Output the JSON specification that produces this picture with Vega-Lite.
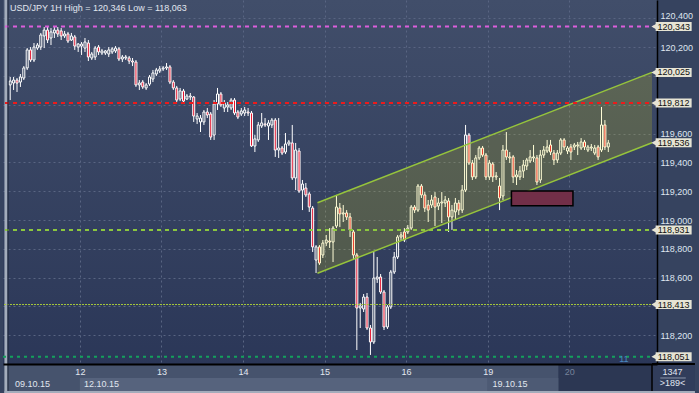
{
"$schema":"https://vega.github.io/schema/vega-lite/v6.json",
"width":654,"height":364,
"autosize":{"type":"none"},
"padding":{"left":3,"top":0,"right":42,"bottom":29},
"background":"#36435f",
"config":{"view":{"stroke":null,"fill":{"gradient":"linear","x1":0,"y1":0,"x2":0,"y2":1,"stops":[{"offset":0,"color":"#414e6a"},{"offset":1,"color":"#2b3758"}]}},"font":"Liberation Sans","axis":{"labelFont":"Liberation Sans","labelFontSize":9},"text":{"font":"Liberation Sans","fontSize":9}},
"resolve":{"axis":{"x":"independent","y":"independent"}},
"datasets":{
"candles":[
{"t":-21,"o":119.938,"h":119.993,"l":119.833,"c":119.965},
{"t":-20,"o":119.951,"h":119.993,"l":119.903,"c":119.972},
{"t":-19,"o":119.972,"h":119.986,"l":119.889,"c":119.951},
{"t":-18,"o":119.958,"h":120.014,"l":119.924,"c":119.993},
{"t":-17,"o":119.986,"h":120.069,"l":119.972,"c":120.056},
{"t":-16,"o":120.056,"h":120.194,"l":120.042,"c":120.181},
{"t":-15,"o":120.181,"h":120.201,"l":120.097,"c":120.111},
{"t":-14,"o":120.111,"h":120.229,"l":120.097,"c":120.201},
{"t":-13,"o":120.194,"h":120.229,"l":120.181,"c":120.215},
{"t":-12,"o":120.201,"h":120.299,"l":120.181,"c":120.285},
{"t":-11,"o":120.278,"h":120.340,"l":120.194,"c":120.319},
{"t":-10,"o":120.319,"h":120.346,"l":120.229,"c":120.250},
{"t":-9,"o":120.264,"h":120.333,"l":120.215,"c":120.306},
{"t":-8,"o":120.299,"h":120.340,"l":120.264,"c":120.319},
{"t":-7,"o":120.319,"h":120.340,"l":120.271,"c":120.292},
{"t":-6,"o":120.313,"h":120.333,"l":120.250,"c":120.278},
{"t":-5,"o":120.278,"h":120.313,"l":120.264,"c":120.292},
{"t":-4,"o":120.292,"h":120.306,"l":120.229,"c":120.243},
{"t":-3,"o":120.250,"h":120.299,"l":120.243,"c":120.278},
{"t":-2,"o":120.271,"h":120.285,"l":120.181,"c":120.208},
{"t":-1,"o":120.201,"h":120.229,"l":120.167,"c":120.222},
{"t":0,"o":120.208,"h":120.236,"l":120.146,"c":120.222},
{"t":1,"o":120.194,"h":120.264,"l":120.167,"c":120.236},
{"t":2,"o":120.229,"h":120.250,"l":120.104,"c":120.132},
{"t":3,"o":120.125,"h":120.167,"l":120.111,"c":120.153},
{"t":4,"o":120.132,"h":120.208,"l":120.111,"c":120.194},
{"t":5,"o":120.201,"h":120.215,"l":120.146,"c":120.167},
{"t":6,"o":120.160,"h":120.188,"l":120.146,"c":120.174},
{"t":7,"o":120.160,"h":120.181,"l":120.146,"c":120.174},
{"t":8,"o":120.153,"h":120.201,"l":120.132,"c":120.181},
{"t":9,"o":120.167,"h":120.201,"l":120.153,"c":120.188},
{"t":10,"o":120.174,"h":120.208,"l":120.160,"c":120.194},
{"t":11,"o":120.188,"h":120.201,"l":120.104,"c":120.118},
{"t":12,"o":120.118,"h":120.146,"l":120.097,"c":120.132},
{"t":13,"o":120.125,"h":120.146,"l":120.111,"c":120.132},
{"t":14,"o":120.125,"h":120.139,"l":120.083,"c":120.104},
{"t":15,"o":120.104,"h":120.125,"l":120.069,"c":120.097},
{"t":16,"o":120.097,"h":120.111,"l":119.924,"c":119.938},
{"t":17,"o":119.938,"h":119.972,"l":119.903,"c":119.951},
{"t":18,"o":119.958,"h":119.972,"l":119.910,"c":119.924},
{"t":19,"o":119.917,"h":119.951,"l":119.903,"c":119.938},
{"t":20,"o":119.944,"h":120.007,"l":119.931,"c":119.993},
{"t":21,"o":119.979,"h":120.042,"l":119.958,"c":120.021},
{"t":22,"o":120.014,"h":120.056,"l":120.000,"c":120.042},
{"t":23,"o":120.035,"h":120.069,"l":120.021,"c":120.049},
{"t":24,"o":120.049,"h":120.069,"l":120.035,"c":120.056},
{"t":25,"o":120.056,"h":120.090,"l":120.042,"c":120.063},
{"t":26,"o":120.063,"h":120.076,"l":119.944,"c":119.958},
{"t":27,"o":119.958,"h":119.972,"l":119.903,"c":119.917},
{"t":28,"o":119.917,"h":119.931,"l":119.819,"c":119.833},
{"t":29,"o":119.840,"h":119.917,"l":119.826,"c":119.896},
{"t":30,"o":119.896,"h":119.910,"l":119.813,"c":119.826},
{"t":31,"o":119.840,"h":119.875,"l":119.833,"c":119.861},
{"t":32,"o":119.854,"h":119.882,"l":119.833,"c":119.861},
{"t":33,"o":119.854,"h":119.861,"l":119.681,"c":119.722},
{"t":34,"o":119.701,"h":119.743,"l":119.667,"c":119.722},
{"t":35,"o":119.681,"h":119.729,"l":119.611,"c":119.708},
{"t":36,"o":119.681,"h":119.764,"l":119.660,"c":119.750},
{"t":37,"o":119.750,"h":119.778,"l":119.708,"c":119.729},
{"t":38,"o":119.736,"h":119.750,"l":119.556,"c":119.576},
{"t":39,"o":119.590,"h":119.833,"l":119.556,"c":119.806},
{"t":40,"o":119.806,"h":119.917,"l":119.764,"c":119.875},
{"t":41,"o":119.875,"h":119.889,"l":119.785,"c":119.799},
{"t":42,"o":119.778,"h":119.833,"l":119.750,"c":119.813},
{"t":43,"o":119.785,"h":119.819,"l":119.750,"c":119.799},
{"t":44,"o":119.778,"h":119.847,"l":119.764,"c":119.833},
{"t":45,"o":119.833,"h":119.847,"l":119.729,"c":119.743},
{"t":46,"o":119.750,"h":119.764,"l":119.701,"c":119.715},
{"t":47,"o":119.736,"h":119.778,"l":119.722,"c":119.757},
{"t":48,"o":119.743,"h":119.785,"l":119.722,"c":119.764},
{"t":49,"o":119.750,"h":119.778,"l":119.722,"c":119.743},
{"t":50,"o":119.743,"h":119.757,"l":119.507,"c":119.514},
{"t":51,"o":119.514,"h":119.590,"l":119.472,"c":119.563},
{"t":52,"o":119.556,"h":119.681,"l":119.542,"c":119.660},
{"t":53,"o":119.653,"h":119.743,"l":119.639,"c":119.674},
{"t":54,"o":119.667,"h":119.708,"l":119.646,"c":119.660},
{"t":55,"o":119.653,"h":119.694,"l":119.556,"c":119.674},
{"t":56,"o":119.660,"h":119.708,"l":119.639,"c":119.694},
{"t":57,"o":119.694,"h":119.708,"l":119.438,"c":119.486},
{"t":58,"o":119.486,"h":119.708,"l":119.431,"c":119.500},
{"t":59,"o":119.500,"h":119.514,"l":119.451,"c":119.465},
{"t":60,"o":119.472,"h":119.604,"l":119.458,"c":119.528},
{"t":61,"o":119.528,"h":119.556,"l":119.514,"c":119.542},
{"t":62,"o":119.535,"h":119.660,"l":119.278,"c":119.292},
{"t":63,"o":119.292,"h":119.535,"l":119.208,"c":119.486},
{"t":64,"o":119.479,"h":119.500,"l":119.188,"c":119.201},
{"t":65,"o":119.208,"h":119.278,"l":119.069,"c":119.250},
{"t":66,"o":119.222,"h":119.257,"l":119.160,"c":119.174},
{"t":67,"o":119.181,"h":119.194,"l":119.056,"c":119.090},
{"t":68,"o":119.083,"h":119.097,"l":118.778,"c":118.813},
{"t":69,"o":118.722,"h":118.826,"l":118.632,"c":118.813},
{"t":70,"o":118.813,"h":118.826,"l":118.688,"c":118.701},
{"t":71,"o":118.757,"h":118.861,"l":118.736,"c":118.840},
{"t":72,"o":118.840,"h":118.896,"l":118.819,"c":118.861},
{"t":73,"o":118.854,"h":118.944,"l":118.806,"c":118.847},
{"t":74,"o":118.847,"h":118.958,"l":118.708,"c":118.944},
{"t":75,"o":118.958,"h":119.174,"l":118.944,"c":119.090},
{"t":76,"o":119.083,"h":119.118,"l":118.951,"c":119.042},
{"t":77,"o":119.042,"h":119.104,"l":118.986,"c":119.049},
{"t":78,"o":119.049,"h":119.069,"l":119.000,"c":119.021},
{"t":79,"o":119.021,"h":119.049,"l":118.882,"c":118.931},
{"t":80,"o":118.917,"h":118.931,"l":118.722,"c":118.757},
{"t":81,"o":118.757,"h":118.771,"l":118.097,"c":118.389},
{"t":82,"o":118.389,"h":118.424,"l":118.250,"c":118.403},
{"t":83,"o":118.382,"h":118.486,"l":118.361,"c":118.465},
{"t":84,"o":118.465,"h":118.493,"l":118.236,"c":118.250},
{"t":85,"o":118.250,"h":118.271,"l":118.063,"c":118.153},
{"t":86,"o":118.153,"h":118.778,"l":118.139,"c":118.597},
{"t":87,"o":118.590,"h":118.743,"l":118.563,"c":118.604},
{"t":88,"o":118.604,"h":118.625,"l":118.486,"c":118.500},
{"t":89,"o":118.500,"h":118.514,"l":118.236,"c":118.257},
{"t":90,"o":118.257,"h":118.410,"l":118.243,"c":118.396},
{"t":91,"o":118.396,"h":118.653,"l":118.382,"c":118.639},
{"t":92,"o":118.639,"h":118.778,"l":118.625,"c":118.743},
{"t":93,"o":118.743,"h":118.896,"l":118.729,"c":118.882},
{"t":94,"o":118.882,"h":118.917,"l":118.861,"c":118.896},
{"t":95,"o":118.917,"h":118.944,"l":118.847,"c":118.861},
{"t":96,"o":118.917,"h":118.965,"l":118.903,"c":118.944},
{"t":97,"o":118.944,"h":119.104,"l":118.931,"c":119.090},
{"t":98,"o":119.090,"h":119.104,"l":119.049,"c":119.069},
{"t":99,"o":119.069,"h":119.250,"l":119.056,"c":119.236},
{"t":100,"o":119.236,"h":119.250,"l":119.153,"c":119.174},
{"t":101,"o":119.174,"h":119.194,"l":119.056,"c":119.083},
{"t":102,"o":119.104,"h":119.139,"l":118.986,"c":119.069},
{"t":103,"o":119.104,"h":119.174,"l":119.083,"c":119.139},
{"t":104,"o":119.160,"h":119.194,"l":118.958,"c":119.090},
{"t":105,"o":119.097,"h":119.153,"l":119.069,"c":119.118},
{"t":106,"o":119.118,"h":119.194,"l":118.979,"c":119.125},
{"t":107,"o":119.118,"h":119.167,"l":119.090,"c":119.139},
{"t":108,"o":119.132,"h":119.153,"l":118.917,"c":119.021},
{"t":109,"o":119.021,"h":119.104,"l":118.931,"c":119.069},
{"t":110,"o":119.056,"h":119.153,"l":119.000,"c":119.118},
{"t":111,"o":119.118,"h":119.139,"l":119.035,"c":119.069},
{"t":112,"o":119.069,"h":119.243,"l":119.049,"c":119.208},
{"t":113,"o":119.208,"h":119.660,"l":119.194,"c":119.590},
{"t":114,"o":119.590,"h":119.604,"l":119.382,"c":119.396},
{"t":115,"o":119.396,"h":119.417,"l":119.278,"c":119.299},
{"t":116,"o":119.299,"h":119.451,"l":119.285,"c":119.431},
{"t":117,"o":119.431,"h":119.514,"l":119.417,"c":119.500},
{"t":118,"o":119.500,"h":119.514,"l":119.438,"c":119.451},
{"t":119,"o":119.451,"h":119.465,"l":119.278,"c":119.299},
{"t":120,"o":119.299,"h":119.417,"l":119.278,"c":119.396},
{"t":121,"o":119.389,"h":119.403,"l":119.264,"c":119.299},
{"t":122,"o":119.299,"h":119.333,"l":119.278,"c":119.306},
{"t":123,"o":119.236,"h":119.292,"l":119.069,"c":119.153},
{"t":124,"o":119.167,"h":119.521,"l":119.139,"c":119.486},
{"t":125,"o":119.486,"h":119.611,"l":119.417,"c":119.438},
{"t":126,"o":119.438,"h":119.472,"l":119.396,"c":119.431},
{"t":127,"o":119.438,"h":119.451,"l":119.257,"c":119.299},
{"t":128,"o":119.299,"h":119.347,"l":119.243,"c":119.313},
{"t":129,"o":119.299,"h":119.375,"l":119.278,"c":119.340},
{"t":130,"o":119.340,"h":119.417,"l":119.292,"c":119.382},
{"t":131,"o":119.375,"h":119.431,"l":119.347,"c":119.417},
{"t":132,"o":119.410,"h":119.486,"l":119.396,"c":119.438},
{"t":133,"o":119.431,"h":119.521,"l":119.403,"c":119.438},
{"t":134,"o":119.431,"h":119.451,"l":119.243,"c":119.264},
{"t":135,"o":119.278,"h":119.486,"l":119.257,"c":119.451},
{"t":136,"o":119.451,"h":119.514,"l":119.431,"c":119.486},
{"t":137,"o":119.479,"h":119.556,"l":119.465,"c":119.507},
{"t":138,"o":119.521,"h":119.556,"l":119.451,"c":119.472},
{"t":139,"o":119.465,"h":119.486,"l":119.382,"c":119.417},
{"t":140,"o":119.417,"h":119.486,"l":119.396,"c":119.465},
{"t":141,"o":119.465,"h":119.569,"l":119.451,"c":119.556},
{"t":142,"o":119.556,"h":119.569,"l":119.486,"c":119.507},
{"t":143,"o":119.479,"h":119.514,"l":119.458,"c":119.500},
{"t":144,"o":119.507,"h":119.528,"l":119.417,"c":119.472},
{"t":145,"o":119.507,"h":119.535,"l":119.486,"c":119.521},
{"t":146,"o":119.514,"h":119.542,"l":119.451,"c":119.521},
{"t":147,"o":119.500,"h":119.569,"l":119.486,"c":119.542},
{"t":148,"o":119.542,"h":119.556,"l":119.486,"c":119.507},
{"t":149,"o":119.486,"h":119.521,"l":119.472,"c":119.507},
{"t":150,"o":119.500,"h":119.528,"l":119.479,"c":119.507},
{"t":151,"o":119.465,"h":119.521,"l":119.451,"c":119.500},
{"t":152,"o":119.507,"h":119.521,"l":119.417,"c":119.438},
{"t":153,"o":119.486,"h":119.785,"l":119.472,"c":119.660},
{"t":154,"o":119.660,"h":119.694,"l":119.486,"c":119.507},
{"t":155,"o":119.507,"h":119.556,"l":119.472,"c":119.535}
],
"chan":[{"t":69.42,"up":119.120,"lo":118.630},{"t":167.86,"up":120.025,"lo":119.536}],
"levels":[{"v":120.343,"k":"a"},{"v":119.812,"k":"b"},{"v":118.931,"k":"c"},{"v":118.051,"k":"e"}],
"thin":[{"v":118.413}],
"box":[{"t1":126.5,"t2":144.6,"top":119.201,"bot":119.099}],
"tags":[{"v":120.343,"lab":"120,343"},{"v":120.025,"lab":"120,025"},{"v":119.812,"lab":"119,812"},{"v":119.536,"lab":"119,536"},{"v":118.931,"lab":"118,931"},{"v":118.413,"lab":"118,413"},{"v":118.051,"lab":"118,051"}],
"one":[{}]
},
"layer":[
{"data":{"name":"one"},"mark":{"type":"rect","color":"#46536d"},
 "encoding":{"x":{"datum":-22.7,"type":"quantitative","axis":null,"scale":{"domain":[-21.65,167.86],"nice":false,"zero":false}},"x2":{"datum":167.86},
 "y":{"datum":117.79,"type":"quantitative","axis":null,"scale":{"domain":[118,120.5278],"nice":false,"zero":false}},"y2":{"datum":118}}},
{"data":{"name":"one"},"mark":{"type":"rect","color":"#313d5b"},
 "encoding":{"x":{"datum":167.86,"type":"quantitative","axis":null},"x2":{"datum":180.5},"y":{"datum":117.8125,"type":"quantitative","axis":null},"y2":{"datum":118}}},
{"data":{"name":"one"},"mark":{"type":"rect","color":"#2c3753"},
 "encoding":{"x":{"datum":140.3,"type":"quantitative","axis":null},"x2":{"datum":167.86},"y":{"datum":117.8125,"type":"quantitative","axis":null},"y2":{"datum":118}}},
{"data":{"name":"one"},"mark":{"type":"rect","color":"#56637d"},
 "encoding":{"x":{"datum":-0.5,"type":"quantitative","axis":null},"x2":{"datum":119.5},"y":{"datum":117.8125,"type":"quantitative","axis":null},"y2":{"datum":117.9028}}},
{"data":{"name":"one"},"mark":{"type":"rect","color":"#4d5a74"},
 "encoding":{"x":{"datum":119.5,"type":"quantitative","axis":null},"x2":{"datum":140.3},"y":{"datum":117.8125,"type":"quantitative","axis":null},"y2":{"datum":117.9028}}},
{"data":{"name":"one"},"mark":{"type":"rect","color":"#a3acbb"},
 "encoding":{"x":{"datum":-22.7,"type":"quantitative","axis":null},"x2":{"datum":180.5},"y":{"datum":117.79,"type":"quantitative","axis":null},"y2":{"datum":117.8125}}},
{"data":{"name":"one"},"mark":{"type":"rect","color":"#a3acbb"},
 "encoding":{"x":{"datum":-22.7,"type":"quantitative","axis":null},"x2":{"datum":-21.8},"y":{"datum":117.79,"type":"quantitative","axis":null},"y2":{"datum":120.6}}},
{"data":{"name":"candles"},"mark":{"type":"rule","color":"#ffffff","strokeWidth":1},
 "encoding":{
  "x":{"field":"t","type":"quantitative","scale":{"domain":[-21.65,167.86],"nice":false,"zero":false},
       "axis":{"orient":"bottom","values":[-0.5,23.5,47.5,71.5,95.5,119.5,143.5],"grid":true,"labels":false,"ticks":false,"domain":false,"title":null,"gridColor":"#596582","gridDash":[2,3],"gridWidth":1,"zindex":0}},
  "y":{"field":"l","type":"quantitative","scale":{"domain":[118,120.5278],"nice":false,"zero":false},
       "axis":{"orient":"left","values":[118.2,118.4,118.6,118.8,119.0,119.2,119.4,119.6,119.8,120.0,120.2,120.4],"grid":true,"labels":false,"ticks":false,"domain":false,"title":null,"gridColor":"#596582","gridDash":[2,3],"gridWidth":1,"zindex":0}},
  "y2":{"field":"h"}}},
{"data":{"name":"candles"},"mark":{"type":"bar","size":2,"stroke":"#ffffff","strokeWidth":1},
 "encoding":{
  "x":{"field":"t","type":"quantitative",
       "axis":{"orient":"bottom","values":[-0.5,23.5,47.5,71.5,95.5,119.5,143.5],"grid":false,"ticks":false,"domain":true,"domainColor":"#000000","domainWidth":2,"title":null,
               "labelExpr":"['12','13','14','15','16','19','20'][round((datum.value+0.5)/24)]","labelAlign":"center","labelPadding":3,"labelFontSize":9,"labelFlush":false,"labelOverlap":false,"labelBound":false,
               "labelColor":{"condition":{"test":"datum.value > 140","value":"#76829a"},"value":"#e2e7ef"},"zindex":1}},
  "y":{"field":"o","type":"quantitative",
       "axis":{"orient":"right","values":[118.2,118.6,118.8,119.0,119.2,119.4,119.6,120.2,120.4],"grid":false,"ticks":false,"domain":true,"domainColor":"#000000","domainWidth":1.5,"title":null,
               "labelExpr":"replace(format(datum.value,'.3f'),'.',',')","labelPadding":3,"labelFontSize":9,"labelColor":"#dfe5ef","labelFlush":false,"labelOverlap":false,"zindex":0,
               "labelOffset":{"condition":{"test":"datum.value > 120.3","value":-3},"value":0}}},
  "y2":{"field":"c"},
  "fill":{"condition":{"test":"datum.c < datum.o","value":"#e3122d"},"value":"#36435f"}}},
{"data":{"name":"chan"},"mark":{"type":"area","color":"#fff000","opacity":0.16},
 "encoding":{"x":{"field":"t","type":"quantitative","axis":null},"y":{"field":"up","type":"quantitative","axis":null},"y2":{"field":"lo"}}},
{"data":{"name":"chan"},"mark":{"type":"line","color":"#96c43c","strokeWidth":1.5},
 "encoding":{"x":{"field":"t","type":"quantitative","axis":null},"y":{"field":"up","type":"quantitative","axis":null}}},
{"data":{"name":"chan"},"mark":{"type":"line","color":"#96c43c","strokeWidth":1.5},
 "encoding":{"x":{"field":"t","type":"quantitative","axis":null},"y":{"field":"lo","type":"quantitative","axis":null}}},
{"data":{"name":"levels"},"mark":{"type":"rule","strokeWidth":2},
 "encoding":{"y":{"field":"v","type":"quantitative","axis":null},
  "color":{"field":"k","type":"nominal","legend":null,"scale":{"domain":["a","b","c","e"],"range":["#dc5edc","#ee1a1a","#8cc83e","#14a05c"]}},
  "strokeDash":{"field":"k","type":"nominal","legend":null,"scale":{"domain":["a","b","c","e"],"range":[[4,4],[4,4],[4,4],[3,4]]}}}},
{"data":{"name":"thin"},"mark":{"type":"rule","strokeWidth":1,"color":"#a6c83a","strokeDash":[2,1]},
 "encoding":{"y":{"field":"v","type":"quantitative","axis":null}}},
{"data":{"name":"box"},"mark":{"type":"rect","fill":"#722f48","stroke":"#000000","strokeWidth":1.5},
 "encoding":{"x":{"field":"t1","type":"quantitative","axis":null},"x2":{"field":"t2"},"y":{"field":"top","type":"quantitative","axis":null},"y2":{"field":"bot"}}},
{"data":{"name":"tags"},"mark":{"type":"point","shape":"triangle-left","size":40,"filled":true,"color":"#e6e4d4","opacity":1},
 "encoding":{"x":{"datum":168.5,"type":"quantitative","axis":null},"y":{"field":"v","type":"quantitative","axis":null}}},
{"data":{"name":"tags"},"mark":{"type":"tick","orient":"horizontal","size":36,"thickness":9,"color":"#e6e4d4","opacity":1},
 "encoding":{"x":{"datum":174.23,"type":"quantitative","axis":null},"y":{"field":"v","type":"quantitative","axis":null}}},
{"data":{"name":"tags"},"mark":{"type":"text","color":"#111111","fontSize":9,"align":"center","baseline":"middle"},
 "encoding":{"x":{"datum":174.23,"type":"quantitative","axis":null},"y":{"field":"v","type":"quantitative","axis":null},"text":{"field":"lab"}}},
{"data":{"name":"one"},"mark":{"type":"rule","color":"#000000","strokeWidth":2},
 "encoding":{"x":{"datum":167.86,"type":"quantitative","axis":null},"x2":{"datum":180.5},"y":{"datum":118,"type":"quantitative","axis":null}}},
{"data":{"name":"one"},"mark":{"type":"rule","color":"#000000","strokeWidth":1.5},
 "encoding":{"x":{"datum":167.86,"type":"quantitative","axis":null},"y":{"datum":117.8125,"type":"quantitative","axis":null},"y2":{"datum":118}}},
{"data":{"name":"one"},"mark":{"type":"rule","color":"#1d2638","strokeWidth":1},
 "encoding":{"x":{"datum":-21.65,"type":"quantitative","axis":null},"y":{"datum":117.8125,"type":"quantitative","axis":null},"y2":{"datum":120.6}}},
{"data":{"name":"one"},"mark":{"type":"rule","color":"#8a94a8","strokeWidth":1},
 "encoding":{"x":{"datum":170.3,"type":"quantitative","axis":null},"x2":{"datum":177.8},"y":{"datum":117.9028,"type":"quantitative","axis":null}}},
{"data":{"name":"one"},"mark":{"type":"text","text":"USD/JPY 1H High = 120,346 Low = 118,063","align":"left","baseline":"middle","color":"#e0e6ef","fontSize":9},
 "encoding":{"x":{"datum":-21.07,"type":"quantitative","axis":null},"y":{"datum":120.472,"type":"quantitative","axis":null}}},
{"data":{"name":"one"},"mark":{"type":"text","text":"09.10.15","align":"left","baseline":"middle","color":"#e0e6ef","fontSize":9},
 "encoding":{"x":{"datum":-19.6,"type":"quantitative","axis":null},"y":{"datum":117.859,"type":"quantitative","axis":null}}},
{"data":{"name":"one"},"mark":{"type":"text","text":"12.10.15","align":"left","baseline":"middle","color":"#e0e6ef","fontSize":9},
 "encoding":{"x":{"datum":0.7,"type":"quantitative","axis":null},"y":{"datum":117.859,"type":"quantitative","axis":null}}},
{"data":{"name":"one"},"mark":{"type":"text","text":"19.10.15","align":"left","baseline":"middle","color":"#e0e6ef","fontSize":9},
 "encoding":{"x":{"datum":120.9,"type":"quantitative","axis":null},"y":{"datum":117.859,"type":"quantitative","axis":null}}},
{"data":{"name":"one"},"mark":{"type":"text","text":"1347","align":"center","baseline":"middle","color":"#e0e6ef","fontSize":9},
 "encoding":{"x":{"datum":173.9,"type":"quantitative","axis":null},"y":{"datum":117.947,"type":"quantitative","axis":null}}},
{"data":{"name":"one"},"mark":{"type":"text","text":">189<","align":"center","baseline":"middle","color":"#e0e6ef","fontSize":9},
 "encoding":{"x":{"datum":173.9,"type":"quantitative","axis":null},"y":{"datum":117.866,"type":"quantitative","axis":null}}},
{"data":{"name":"one"},"mark":{"type":"text","text":"11","align":"center","baseline":"middle","color":"#4a88c0","fontSize":9},
 "encoding":{"x":{"datum":159.6,"type":"quantitative","axis":null},"y":{"datum":118.035,"type":"quantitative","axis":null}}}
]
}
